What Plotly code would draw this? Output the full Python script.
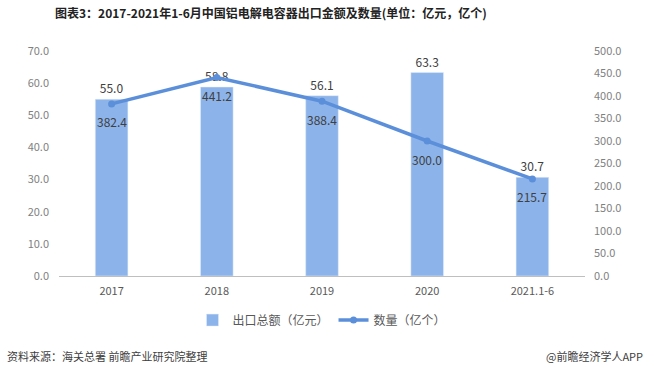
import plotly.graph_objects as go

categories = ["2017", "2018", "2019", "2020", "2021.1-6"]
export_value = [55.0, 58.8, 56.1, 63.3, 30.7]
export_qty = [382.4, 441.2, 388.4, 300.0, 215.7]
left_ticks = [0, 10, 20, 30, 40, 50, 60, 70]
right_ticks = [0, 50, 100, 150, 200, 250, 300, 350, 400, 450, 500]

FONT = "Noto Sans CJK SC"
fig = go.Figure()
fig.add_trace(go.Bar(
    x=categories, y=export_value, name="出口总额（亿元）",
    marker=dict(color="#8DB4EA"),
    text=[f"{v:.1f}" for v in export_value], textposition="outside",
    textfont=dict(size=12, color="#404040"), cliponaxis=False,
))
fig.add_trace(go.Scatter(
    x=categories, y=export_qty, name="数量（亿个）", yaxis="y2",
    mode="lines+markers",
    line=dict(color="#5B8FDA", width=3.5),
    marker=dict(size=7, color="#5B8FDA"),
    cliponaxis=False,
))

qty_labels = [
    dict(x=i, y=v, xref="x", yref="y2", text=f"{v:.1f}", showarrow=False,
         yshift=-18, yanchor="middle", font=dict(size=12, color="#404040"))
    for i, v in enumerate(export_qty)
]

fig.update_layout(
    width=649, height=377,
    margin=dict(l=59, r=64, t=51, b=101),
    paper_bgcolor="white", plot_bgcolor="white",
    font=dict(family=FONT, color="#595959", size=11),
    bargap=0.69,
    showlegend=True,
    title=dict(text="<b>图表3：2017-2021年1-6月中国铝电解电容器出口金额及数量(单位：亿元，亿个)</b>",
               x=55 / 649, xref="container", xanchor="left", y=0.975, yanchor="top",
               font=dict(size=12, color="#222222", family=FONT)),
    xaxis=dict(type="category", showline=True, linecolor="#BFBFBF", linewidth=1, ticks="",
               ticklabelstandoff=5, tickfont=dict(size=11, color="#595959")),
    yaxis=dict(range=[0, 70], tickvals=left_ticks, tickformat=".1f", ticklabelstandoff=9,
               showgrid=False, zeroline=False, tickfont=dict(size=11, color="#7F7F7F")),
    yaxis2=dict(range=[0, 500], tickvals=right_ticks, tickformat=".1f", ticklabelstandoff=8,
                overlaying="y", side="right", showgrid=False, zeroline=False,
                tickfont=dict(size=11, color="#7F7F7F")),
    legend=dict(orientation="h", x=0.5, xanchor="center", y=-0.196, yanchor="middle",
                font=dict(size=12, color="#595959"), traceorder="normal"),
    annotations=qty_labels + [
        dict(text="资料来源：海关总署 前瞻产业研究院整理", xref="paper", yref="paper",
             x=-0.103, y=-0.356, xanchor="left", yanchor="middle", showarrow=False,
             font=dict(size=11, color="#404040")),
        dict(text="@前瞻经济学人APP", xref="paper", yref="paper",
             x=1.115, y=-0.356, xanchor="right", yanchor="middle", showarrow=False,
             font=dict(size=11, color="#404040")),
    ],
)
fig.write_html("out.html", config={"displayModeBar": False},
               post_script="document.body.style.margin='0';document.body.style.overflow='hidden';")
